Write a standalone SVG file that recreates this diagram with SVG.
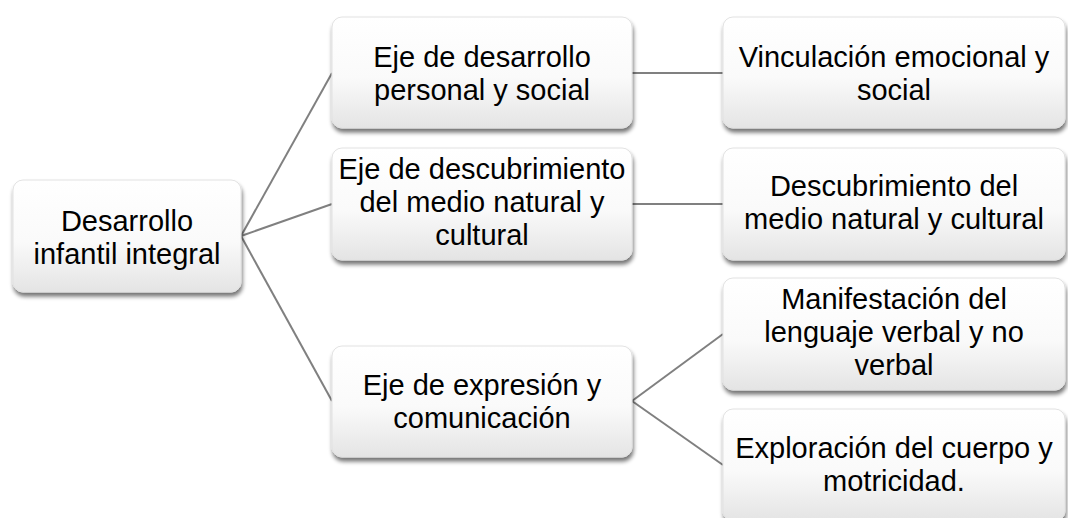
<svg xmlns="http://www.w3.org/2000/svg" width="1068" height="518" viewBox="0 0 1068 518">
<defs>
<linearGradient id="g" x1="0" y1="0" x2="0" y2="1">
<stop offset="0" stop-color="#ffffff"/>
<stop offset="0.55" stop-color="#fafafa"/>
<stop offset="1" stop-color="#e4e4e4"/>
</linearGradient>
<filter id="sh" x="-10%" y="-10%" width="120%" height="130%">
<feGaussianBlur in="SourceAlpha" stdDeviation="2.2"/>
<feOffset dx="1" dy="4" result="b"/>
<feComponentTransfer in="b" result="c"><feFuncA type="linear" slope="0.55"/></feComponentTransfer>
<feMerge><feMergeNode in="c"/><feMergeNode in="SourceGraphic"/></feMerge>
</filter>
</defs>
<style>
.box{fill:url(#g);stroke:#e2e2e2;stroke-width:1;filter:url(#sh)}
.t{font-family:"Liberation Sans",Arial,sans-serif;font-size:29px;fill:#000;text-anchor:middle}
.c{stroke:#808080;stroke-width:2;fill:none}
</style>
<rect width="1068" height="518" fill="#ffffff"/>
<g id="connectors">
<line class="c" x1="241" y1="236" x2="332" y2="73"/>
<line class="c" x1="241" y1="236" x2="332" y2="204"/>
<line class="c" x1="241" y1="236" x2="332" y2="401"/>
<line class="c" x1="632" y1="73" x2="723" y2="73"/>
<line class="c" x1="632" y1="204" x2="723" y2="204"/>
<line class="c" x1="632" y1="401" x2="723" y2="334"/>
<line class="c" x1="632" y1="401" x2="723" y2="465"/>
</g>
<g id="root">
<rect class="box" x="13" y="180" width="228" height="112" rx="10"/>
<text class="t" x="127" y="231">Desarrollo</text>
<text class="t" x="127" y="264">infantil integral</text>
</g>
<g id="eje-personal">
<rect class="box" x="332" y="17" width="300" height="111" rx="10"/>
<text class="t" x="482" y="67">Eje de desarrollo</text>
<text class="t" x="482" y="100">personal y social</text>
</g>
<g id="eje-descubrimiento">
<rect class="box" x="332" y="148" width="300" height="112" rx="10"/>
<text class="t" x="482" y="179">Eje de descubrimiento</text>
<text class="t" x="482" y="212">del medio natural y</text>
<text class="t" x="482" y="245">cultural</text>
</g>
<g id="eje-expresion">
<rect class="box" x="332" y="346" width="300" height="111" rx="10"/>
<text class="t" x="482" y="395">Eje de expresión y</text>
<text class="t" x="482" y="428">comunicación</text>
</g>
<g id="vinculacion">
<rect class="box" x="723" y="17" width="342" height="111" rx="10"/>
<text class="t" x="894" y="67">Vinculación emocional y</text>
<text class="t" x="894" y="100">social</text>
</g>
<g id="descubrimiento">
<rect class="box" x="723" y="148" width="342" height="112" rx="10"/>
<text class="t" x="894" y="196">Descubrimiento del</text>
<text class="t" x="894" y="229">medio natural y cultural</text>
</g>
<g id="manifestacion">
<rect class="box" x="723" y="278" width="342" height="112" rx="10"/>
<text class="t" x="894" y="309">Manifestación del</text>
<text class="t" x="894" y="342">lenguaje verbal y no</text>
<text class="t" x="894" y="375">verbal</text>
</g>
<g id="exploracion">
<rect class="box" x="723" y="409" width="342" height="112" rx="10"/>
<text class="t" x="894" y="458">Exploración del cuerpo y</text>
<text class="t" x="894" y="491">motricidad.</text>
</g>
</svg>
